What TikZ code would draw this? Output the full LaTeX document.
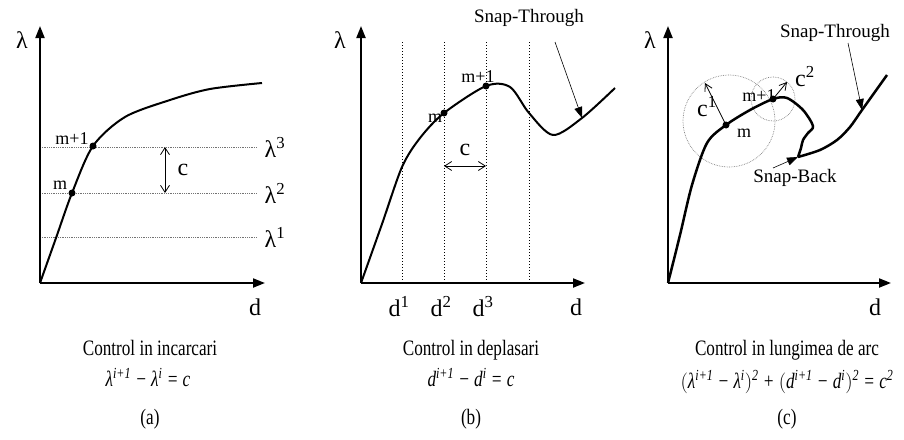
\documentclass[tikz,border=0pt]{standalone}
\usepackage{fontspec}
\setmainfont{Liberation Serif}
\newfontfamily\capfont[FakeStretch=0.78]{Liberation Serif}
\usetikzlibrary{arrows.meta}

\begin{document}
\begin{tikzpicture}[x=1pt, y=-1pt,
  axis/.style={line width=2pt, -{Triangle[length=12pt,width=9pt]}},
  curve/.style={line width=2pt, line join=round},
  level/.style={densely dotted, black!55, line width=0.8pt},
  gridline/.style={dotted, line width=1pt},
  guide/.style={densely dotted, black!50, line width=0.7pt},
  dimarr/.style={line width=0.8pt, {Straight Barb[length=7pt,width=9pt]}-{Straight Barb[length=7pt,width=9pt]}},
  vecarr/.style={line width=0.8pt, -{Straight Barb[length=7pt,width=8pt]}},
  callout/.style={line width=0.6pt, -{Triangle[length=11pt,width=8pt]}},
  lbl/.style={font=\fontsize{24}{24}\selectfont, inner sep=0pt},
  ptlbl/.style={font=\fontsize{18}{18}\selectfont, inner sep=0pt},
  snaplbl/.style={font=\fontsize{19}{19}\selectfont, inner sep=0pt},
  captxt/.style={font=\capfont\fontsize{22}{22}\selectfont, inner sep=0pt, anchor=base},
  eqtxt/.style={font=\capfont\fontsize{22}{22}\selectfont\itshape, inner sep=0pt, anchor=base}]
\useasboundingbox (0,0) rectangle (904,439);

% (a) load control
\coordinate (Oa) at (40,283);
\coordinate (ma) at (72,193);
\coordinate (m1a) at (93,146);
\foreach \y/\k in {237/1,193/2,147/3}{
  \draw[level] (40,\y) -- (257,\y);
  \node[lbl] (la\k) at (275,\y) {λ\textsuperscript{\k}};
}
\draw[axis] (Oa) -- (40,26);
\draw[axis] (Oa) -- (265,283);
\node[lbl] (lama) at (22,40) {λ};
\node[lbl] (da) at (255,307) {d};
\draw[curve] plot[smooth] coordinates {(Oa) (56,238) (ma) (m1a) (125,117) (170,100) (210,89) (262,83)};
\fill (ma) circle (3.5) (m1a) circle (3.5);
\node[ptlbl] (txma) at (60,185) {m};
\node[ptlbl] (txm1a) at (72,139) {m+1};
\draw[dimarr] (165,147) -- (165,193);
\node[lbl] (ca) at (183,170) {c};

% (b) displacement control
\coordinate (Ob) at (361,283);
\coordinate (mb) at (444,113);
\coordinate (m1b) at (486,86);
\foreach \x in {402,444,486,529}{
  \draw[gridline] (\x,42) -- (\x,283);
}
\foreach \t/\k in {399/1,441/2,483/3}{
  \node[lbl] (db\k) at (\t,307) {d\textsuperscript{\k}};
}
\draw[axis] (Ob) -- (361,26);
\draw[axis] (Ob) -- (585,283);
\node[lbl] (lamb) at (340,40) {λ};
\node[lbl] (db) at (576,307) {d};
\draw[curve] plot[smooth, tension=0.5] coordinates {(Ob) (382,224) (402,167) (420,138) (mb) (m1b) (510,87) (529,113) (553,135) (582,118) (615,88)};
\fill (mb) circle (3.5) (m1b) circle (3.5);
\node[ptlbl] (txmb) at (435,118) {m};
\node[ptlbl] (txm1b) at (478,77) {m+1};
\draw[dimarr] (444,166) -- (486,166);
\node[lbl] (cb) at (465,150) {c};
\node[snaplbl] (stb) at (529,18) {Snap-Through};
\coordinate (stbtip) at (582,118);
\draw[callout] (555,42) -- (stbtip);

% (c) arc-length control
\coordinate (Oc) at (668,283);
\coordinate (mc) at (726,125);
\coordinate (m1c) at (773,99);
\coordinate (sbc) at (798,157);
\draw[guide] (729,121) circle (46);
\draw[guide] (m1c) circle (22);
\draw[axis] (Oc) -- (668,26);
\draw[axis] (Oc) -- (891,283);
\node[lbl] (lamc) at (650,40) {λ};
\node[lbl] (dc) at (875,307) {d};
\draw[curve, line width=2.5pt] plot[smooth, tension=0.5] coordinates {(Oc) (680,235) (692,185) (707,143) (mc) (750,110) (m1c) (787,98) (803,110) (813,126) (808,133) (803,140) (801,148) (sbc)}
  plot[smooth, tension=0.5] coordinates {(sbc) (820,150) (837,140) (850,127) (862,110) (887,75)};
\fill (mc) circle (3.5) (m1c) circle (3.5);
\draw[vecarr] (mc) -- (705,83);
\draw[vecarr] (m1c) -- (787,82);
\node[lbl] (c1c) at (707,107) {c\textsuperscript{1}};
\node[lbl] (c2c) at (805,77) {c\textsuperscript{2}};
\node[ptlbl] (txmc) at (744,133) {m};
\node[ptlbl] (txm1c) at (759,96) {m+1};
\node[snaplbl] (stc) at (835,33) {Snap-Through};
\draw[callout] (848,43) -- (862,110);
\node[snaplbl] (sbtxt) at (795,178) {Snap-Back};
\draw[callout] (773,168) -- (sbc);

% captions
\node[captxt] (capa) at (150,355) {Control in incarcari};
\node[eqtxt] (eqa) at (148,386) {λ\textsuperscript{\textit{i}+1} − λ\textsuperscript{\textit{i}} = c};
\node[captxt] (taga) at (150,424) {(a)};
\node[captxt] (capb) at (471,355) {Control in deplasari};
\node[eqtxt] (eqb) at (471,386) {d\textsuperscript{\textit{i}+1} − d\textsuperscript{\textit{i}} = c};
\node[captxt] (tagb) at (471,424) {(b)};
\node[captxt] (capc) at (787,355) {Control in lungimea de arc};
\node[eqtxt] (eqc) at (787,388) {$\Bigl($λ\textsuperscript{\textit{i}+1} − λ\textsuperscript{\textit{i}}$\Bigr)$\textsuperscript{2} + $\Bigl($d\textsuperscript{\textit{i}+1} − d\textsuperscript{\textit{i}}$\Bigr)$\textsuperscript{2} = c\textsuperscript{2}};
\node[captxt] (tagc) at (787,424) {(c)};
\end{tikzpicture}
\end{document}
